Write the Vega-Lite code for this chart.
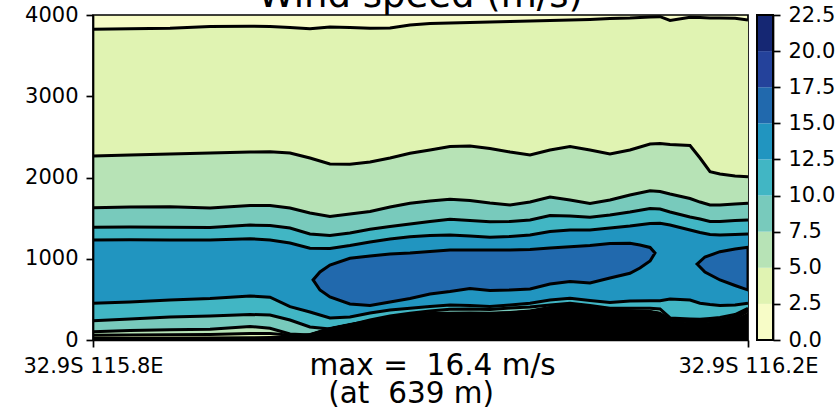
{
  "$schema": "https://vega.github.io/schema/vega-lite/v6.json",
  "width": 655,
  "height": 325,
  "autosize": {"type": "none"},
  "padding": {"left": 93, "top": 15, "right": 91, "bottom": 71},
  "background": "white",
  "config": {
    "font": "DejaVu Sans",
    "view": {"stroke": "black", "strokeWidth": 1.7, "fill": "#f7fcc7"},
    "axis": {"grid": false, "labelFont": "DejaVu Sans", "titleFont": "DejaVu Sans", "labelColor": "black", "titleColor": "black", "tickColor": "black", "domainColor": "black", "tickWidth": 1.7, "domainWidth": 1.7, "tickSize": 7, "labelFontSize": 21, "labelPadding": 8, "labelOverlap": false}
  },
  "title": {"text": "Wind speed (m/s)", "fontSize": 37, "fontWeight": "normal", "font": "DejaVu Sans", "color": "black", "baseline": "alphabetic", "offset": -40, "anchor": "middle"},
  "datasets": {
    "cols": [
      {"lon": 115.8, "t": 37, "c5b": 58, "c75b": 102, "c10b": 238, "c125b": 452, "c125t": 1231, "c10t": 1387, "c75t": 1628, "c5t": 2265, "c25t": 3824},
      {"lon": 115.8226, "t": 37, "c5b": 62, "c75b": 117, "c10b": 259, "c125b": 468, "c125t": 1233, "c10t": 1390, "c75t": 1637, "c5t": 2277, "c25t": 3830},
      {"lon": 115.847, "t": 39, "c5b": 64, "c75b": 126, "c10b": 283, "c125b": 492, "c125t": 1230, "c10t": 1388, "c75t": 1641, "c5t": 2289, "c25t": 3836},
      {"lon": 115.8715, "t": 43, "c5b": 68, "c75b": 132, "c10b": 295, "c125b": 511, "c125t": 1231, "c10t": 1385, "c75t": 1625, "c5t": 2302, "c25t": 3858},
      {"lon": 115.8959, "t": 46, "c5b": 80, "c75b": 166, "c10b": 314, "c125b": 542, "c125t": 1247, "c10t": 1415, "c75t": 1655, "c5t": 2314, "c25t": 3861},
      {"lon": 115.9081, "t": 49, "c5b": 80, "c75b": 144, "c10b": 308, "c125b": 526, "c125t": 1231, "c10t": 1409, "c75t": 1655, "c5t": 2318, "c25t": 3858},
      {"lon": 115.9203, "t": 52, "c5b": 58, "c75b": 74, "c10b": 246, "c125b": 410, "c125t": 1194, "c10t": 1378, "c75t": 1625, "c5t": 2302, "c25t": 3846},
      {"lon": 115.9325, "t": 86, "c5b": 61, "c75b": 61, "c10b": 160, "c125b": 345, "c125t": 1129, "c10t": 1305, "c75t": 1563, "c5t": 2240, "c25t": 3830},
      {"lon": 115.9447, "t": 160, "c5b": 135, "c75b": 135, "c10b": 135, "c125b": 271, "c125t": 1126, "c10t": 1286, "c75t": 1520, "c5t": 2166, "c25t": 3852},
      {"lon": 115.9569, "t": 209, "c5b": 184, "c75b": 184, "c10b": 184, "c125b": 283, "c125t": 1163, "c10t": 1317, "c75t": 1551, "c5t": 2163, "c25t": 3846},
      {"lon": 115.9692, "t": 252, "c5b": 227, "c75b": 227, "c10b": 246, "c125b": 332, "c125t": 1206, "c10t": 1362, "c75t": 1582, "c5t": 2191, "c25t": 3836},
      {"lon": 115.9814, "t": 289, "c5b": 264, "c75b": 264, "c10b": 295, "c125b": 369, "c125t": 1243, "c10t": 1397, "c75t": 1637, "c5t": 2240, "c25t": 3840},
      {"lon": 115.9936, "t": 320, "c5b": 295, "c75b": 295, "c10b": 329, "c125b": 390, "c125t": 1271, "c10t": 1428, "c75t": 1683, "c5t": 2298, "c25t": 3877},
      {"lon": 116.0058, "t": 345, "c5b": 320, "c75b": 320, "c10b": 357, "c125b": 412, "c125t": 1286, "c10t": 1458, "c75t": 1711, "c5t": 2338, "c25t": 3895},
      {"lon": 116.018, "t": 348, "c5b": 323, "c75b": 323, "c10b": 378, "c125b": 431, "c125t": 1292, "c10t": 1486, "c75t": 1732, "c5t": 2382, "c25t": 3902},
      {"lon": 116.0302, "t": 351, "c5b": 326, "c75b": 326, "c10b": 382, "c125b": 425, "c125t": 1280, "c10t": 1471, "c75t": 1717, "c5t": 2388, "c25t": 3908},
      {"lon": 116.0424, "t": 348, "c5b": 323, "c75b": 323, "c10b": 375, "c125b": 412, "c125t": 1264, "c10t": 1456, "c75t": 1686, "c5t": 2357, "c25t": 3914},
      {"lon": 116.0547, "t": 357, "c5b": 332, "c75b": 332, "c10b": 394, "c125b": 431, "c125t": 1274, "c10t": 1458, "c75t": 1662, "c5t": 2314, "c25t": 3920},
      {"lon": 116.0669, "t": 375, "c5b": 350, "c75b": 350, "c10b": 406, "c125b": 452, "c125t": 1292, "c10t": 1477, "c75t": 1698, "c5t": 2277, "c25t": 3926},
      {"lon": 116.0791, "t": 418, "c5b": 393, "c75b": 393, "c10b": 431, "c125b": 492, "c125t": 1335, "c10t": 1532, "c75t": 1760, "c5t": 2338, "c25t": 3932},
      {"lon": 116.0913, "t": 445, "c5b": 420, "c75b": 420, "c10b": 452, "c125b": 513, "c125t": 1354, "c10t": 1526, "c75t": 1723, "c5t": 2382, "c25t": 3938},
      {"lon": 116.1035, "t": 418, "c5b": 393, "c75b": 393, "c10b": 425, "c125b": 486, "c125t": 1354, "c10t": 1510, "c75t": 1680, "c5t": 2338, "c25t": 3945},
      {"lon": 116.1157, "t": 385, "c5b": 360, "c75b": 360, "c10b": 390, "c125b": 462, "c125t": 1378, "c10t": 1538, "c75t": 1723, "c5t": 2289, "c25t": 3957},
      {"lon": 116.1279, "t": 378, "c5b": 353, "c75b": 353, "c10b": 390, "c125b": 480, "c125t": 1403, "c10t": 1575, "c75t": 1785, "c5t": 2338, "c25t": 3963},
      {"lon": 116.1402, "t": 369, "c5b": 344, "c75b": 344, "c10b": 390, "c125b": 484, "c125t": 1434, "c10t": 1618, "c75t": 1838, "c5t": 2412, "c25t": 3975},
      {"lon": 116.1463, "t": 348, "c5b": 323, "c75b": 323, "c10b": 382, "c125b": 484, "c125t": 1436, "c10t": 1612, "c75t": 1828, "c5t": 2418, "c25t": 3979},
      {"lon": 116.1524, "t": 234, "c5b": 243, "c75b": 252, "c10b": 271, "c125b": 505, "c125t": 1415, "c10t": 1575, "c75t": 1797, "c5t": 2406, "c25t": 3932},
      {"lon": 116.1646, "t": 215, "c5b": 224, "c75b": 240, "c10b": 259, "c125b": 492, "c125t": 1354, "c10t": 1514, "c75t": 1742, "c5t": 2394, "c25t": 3972},
      {"lon": 116.1707, "t": 213, "c5b": 222, "c75b": 234, "c10b": 255, "c125b": 452, "c125t": 1323, "c10t": 1489, "c75t": 1698, "c5t": 2240, "c25t": 3969},
      {"lon": 116.1768, "t": 222, "c5b": 230, "c75b": 240, "c10b": 265, "c125b": 437, "c125t": 1298, "c10t": 1458, "c75t": 1662, "c5t": 2071, "c25t": 3963},
      {"lon": 116.1829, "t": 228, "c5b": 236, "c75b": 246, "c10b": 277, "c125b": 425, "c125t": 1292, "c10t": 1458, "c75t": 1662, "c5t": 2043, "c25t": 3963},
      {"lon": 116.1921, "t": 258, "c5b": 268, "c75b": 283, "c10b": 314, "c125b": 431, "c125t": 1298, "c10t": 1471, "c75t": 1674, "c5t": 2018, "c25t": 3959},
      {"lon": 116.2, "t": 340, "c5b": 355, "c75b": 372, "c10b": 390, "c125b": 452, "c125t": 1305, "c10t": 1477, "c75t": 1683, "c5t": 2010, "c25t": 3938}
    ],
    "blobs": [
      {"blob": "a", "lon": 115.9344, "bot": 739, "top": 739},
      {"blob": "a", "lon": 115.9386, "bot": 615, "top": 837},
      {"blob": "a", "lon": 115.9447, "bot": 529, "top": 923},
      {"blob": "a", "lon": 115.9569, "bot": 443, "top": 1006},
      {"blob": "a", "lon": 115.9692, "bot": 425, "top": 1034},
      {"blob": "a", "lon": 115.9814, "bot": 468, "top": 1059},
      {"blob": "a", "lon": 115.9936, "bot": 511, "top": 1071},
      {"blob": "a", "lon": 116.0058, "bot": 566, "top": 1089},
      {"blob": "a", "lon": 116.018, "bot": 597, "top": 1108},
      {"blob": "a", "lon": 116.0302, "bot": 634, "top": 1108},
      {"blob": "a", "lon": 116.0424, "bot": 609, "top": 1108},
      {"blob": "a", "lon": 116.0547, "bot": 615, "top": 1108},
      {"blob": "a", "lon": 116.0669, "bot": 628, "top": 1114},
      {"blob": "a", "lon": 116.0791, "bot": 689, "top": 1132},
      {"blob": "a", "lon": 116.0913, "bot": 720, "top": 1148},
      {"blob": "a", "lon": 116.1035, "bot": 702, "top": 1163},
      {"blob": "a", "lon": 116.1157, "bot": 763, "top": 1188},
      {"blob": "a", "lon": 116.1279, "bot": 821, "top": 1190},
      {"blob": "a", "lon": 116.134, "bot": 886, "top": 1169},
      {"blob": "a", "lon": 116.1402, "bot": 972, "top": 1139},
      {"blob": "a", "lon": 116.1432, "bot": 1071, "top": 1071},
      {"blob": "b", "lon": 116.1689, "bot": 935, "top": 935},
      {"blob": "b", "lon": 116.1737, "bot": 837, "top": 1022},
      {"blob": "b", "lon": 116.1829, "bot": 739, "top": 1087},
      {"blob": "b", "lon": 116.1921, "bot": 671, "top": 1120},
      {"blob": "b", "lon": 116.2, "bot": 615, "top": 1141}
    ],
    "levels": [
      {"lo": 0, "hi": 2.5},
      {"lo": 2.5, "hi": 5},
      {"lo": 5, "hi": 7.5},
      {"lo": 7.5, "hi": 10},
      {"lo": 10, "hi": 12.5},
      {"lo": 12.5, "hi": 15},
      {"lo": 15, "hi": 17.5},
      {"lo": 17.5, "hi": 20},
      {"lo": 20, "hi": 22.5}
    ]
  },
  "layer": [
    {
      "data": {"name": "cols"},
      "encoding": {
        "x": {
          "field": "lon", "type": "quantitative",
          "scale": {"domain": [115.8, 116.2], "nice": false, "zero": false},
          "axis": {
            "values": [115.8, 116.2],
            "labelExpr": "'32.9S ' + format(datum.value, '.1f') + 'E'",
            "labelFlush": false, "zindex": 1,
            "title": ["max =\u00a0 16.4 m/s", "\u200b\u00a0\u00a0(at\u00a0 639 m)"],
            "titleFontSize": 29.5, "titleFontWeight": "normal",
            "titleAlign": "left", "titleAnchor": "start", "titleBaseline": "alphabetic",
            "titleX": 216, "titleY": 34, "titleLineHeight": 28
          }
        }
      },
      "layer": [
        {
          "mark": {"type": "area", "color": "#e0f3b2", "clip": true},
          "encoding": {
            "y": {"field": "c25t", "type": "quantitative",
                  "scale": {"domain": [0, 4000], "nice": false, "zero": true},
                  "axis": {"values": [0, 1000, 2000, 3000, 4000], "format": "d", "title": null, "labelFlush": false, "zindex": 1}}
          }
        },
        {
          "mark": {"type": "area", "color": "#b7e3b6", "clip": true},
          "encoding": {"y": {"field": "c5b", "type": "quantitative"}, "y2": {"field": "c5t"}}
        },
        {
          "mark": {"type": "area", "color": "#78cabc", "clip": true},
          "encoding": {"y": {"field": "c75b", "type": "quantitative"}, "y2": {"field": "c75t"}}
        },
        {
          "mark": {"type": "area", "color": "#41b6c4", "clip": true},
          "encoding": {"y": {"field": "c10b", "type": "quantitative"}, "y2": {"field": "c10t"}}
        },
        {
          "mark": {"type": "area", "color": "#2195c0", "clip": true},
          "encoding": {"y": {"field": "c125b", "type": "quantitative"}, "y2": {"field": "c125t"}}
        },
        {
          "transform": [{"fold": ["c25t", "c5t", "c75t", "c10t", "c125t", "c125b", "c10b", "c75b", "c5b"], "as": ["contour", "h"]}],
          "mark": {"type": "line", "color": "black", "strokeWidth": 3, "clip": true},
          "encoding": {"y": {"field": "h", "type": "quantitative"}, "detail": {"field": "contour"}}
        },
        {
          "data": {"name": "blobs"},
          "mark": {"type": "area", "fill": "#2169ad", "stroke": "black", "strokeWidth": 3, "clip": true},
          "encoding": {"y": {"field": "bot", "type": "quantitative"}, "y2": {"field": "top"}, "detail": {"field": "blob"}}
        },
        {
          "mark": {"type": "area", "color": "black", "clip": true},
          "encoding": {"y": {"field": "t", "type": "quantitative"}}
        }
      ]
    },
    {
      "data": {"name": "levels"},
      "layer": [
        {
          "mark": {"type": "rect"},
          "encoding": {
            "x": {"datum": 0, "type": "quantitative", "scale": {"domain": [0, 1], "range": [664, 680]}, "axis": null},
            "x2": {"datum": 1},
            "y": {"field": "lo", "type": "quantitative",
                  "scale": {"domain": [0, 22.5], "nice": false, "zero": true},
                  "axis": {"orient": "right", "offset": 25, "values": [0, 2.5, 5, 7.5, 10, 12.5, 15, 17.5, 20, 22.5], "format": ".1f", "title": null, "labelFlush": false, "labelOverlap": false, "zindex": 1}},
            "y2": {"field": "hi"},
            "color": {"field": "lo", "type": "ordinal",
                      "scale": {"domain": [0, 2.5, 5, 7.5, 10, 12.5, 15, 17.5, 20], "range": ["#f7fcc7", "#e0f3b2", "#b7e3b6", "#78cabc", "#41b6c4", "#2195c0", "#2169ad", "#24429b", "#152773"]},
                      "legend": null}
          }
        },
        {
          "mark": {"type": "rect", "filled": false, "color": "black", "strokeWidth": 1.7},
          "encoding": {
            "x": {"datum": 0, "type": "quantitative", "axis": null},
            "x2": {"datum": 1},
            "y": {"datum": 0, "type": "quantitative",
                  "axis": {"orient": "right", "offset": 25, "values": [0, 2.5, 5, 7.5, 10, 12.5, 15, 17.5, 20, 22.5], "format": ".1f", "title": null, "labelFlush": false, "labelOverlap": false, "zindex": 1}},
            "y2": {"datum": 22.5}
          }
        }
      ]
    }
  ],
  "resolve": {"scale": {"x": "independent", "y": "independent", "color": "independent"}, "axis": {"x": "independent", "y": "independent"}}
}
